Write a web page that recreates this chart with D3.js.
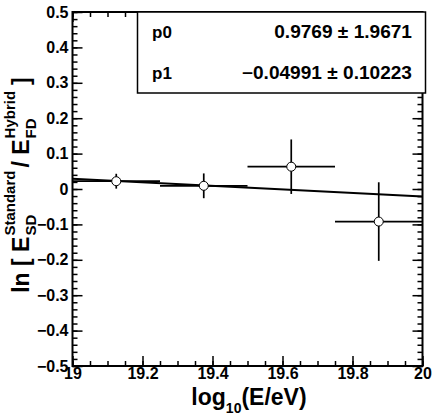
<!DOCTYPE html>
<html>
<head>
<meta charset="utf-8">
<script src="https://cdn.jsdelivr.net/npm/d3@7"></script>
<style>
  body { margin: 0; background: #fff; }
  text { font-family: "Liberation Sans", Arial, sans-serif; font-weight: bold; }
</style>
</head>
<body>
<div id="chart"></div>
<script>
// bin centres, half widths, values and errors
const binCenters = [19.125, 19.375, 19.625, 19.875];
const binHalfWidths = [0.125, 0.125, 0.125, 0.125];
const ratioValues = [0.022, 0.009, 0.063, -0.092];
const ratioErrors = [0.021, 0.035, 0.077, 0.111];

// linear fit parameters
const fitParams = [0.9769, -0.04991];
const fitLabels = ["p0", "p1"];
const fitTexts = ["0.9769 \u00b1 1.9671", "\u22120.04991 \u00b1 0.10223"];

const xTickValues = [19, 19.2, 19.4, 19.6, 19.8, 20];
const yTickValues = [0.5, 0.4, 0.3, 0.2, 0.1, 0, -0.1, -0.2, -0.3, -0.4, -0.5];

const width = 433;
const height = 416;
const margin = { top: 12, right: 10.5, bottom: 50, left: 72.5 };

const svg = d3.select("#chart")
  .append("svg")
  .attr("width", width)
  .attr("height", height);

const x = d3.scaleLinear()
  .domain([19, 20])
  .range([margin.left, width - margin.right]);

const y = d3.scaleLinear()
  .domain([-0.5, 0.5])
  .range([height - margin.bottom, margin.top]);

const fmt = d => d3.format("~g")(d);
const xMinor = d3.range(0, 21).map(i => 19 + i * 0.05);
const yMinor = d3.range(0, 51).map(i => -0.5 + i * 0.02);

// the reference is a bit wider than tall, stretch texts a little
function stretch(sel, k) {
  sel.each(function () {
    const len = this.getComputedTextLength();
    if (len > 0) d3.select(this).attr("textLength", len * k).attr("lengthAdjust", "spacingAndGlyphs");
  });
}

function styleAxis(g) {
  g.select(".domain").remove();
  g.selectAll("line").attr("stroke", "#000").attr("stroke-width", 1.5);
  g.selectAll("text")
    .style("font-size", "16px")
    .style("font-family", "'Liberation Sans', Arial, sans-serif")
    .style("font-weight", "bold")
    .attr("fill", "#000");
}

// X Axis (bottom)
svg.append("g")
  .attr("transform", `translate(0,${y(-0.5)})`)
  .call(d3.axisBottom(x).tickValues(xTickValues).tickFormat(fmt).tickSize(-10).tickPadding(2))
  .call(styleAxis);
svg.append("g")
  .attr("transform", `translate(0,${y(-0.5)})`)
  .call(d3.axisBottom(x).tickValues(xMinor).tickFormat("").tickSize(-5))
  .call(styleAxis);

// X Axis (top)
svg.append("g")
  .attr("transform", `translate(0,${y(0.5)})`)
  .call(d3.axisTop(x).tickValues(xTickValues).tickFormat("").tickSize(-10))
  .call(styleAxis);
svg.append("g")
  .attr("transform", `translate(0,${y(0.5)})`)
  .call(d3.axisTop(x).tickValues(xMinor).tickFormat("").tickSize(-5))
  .call(styleAxis);

// Y Axis (left)
svg.append("g")
  .attr("transform", `translate(${x(19)},0)`)
  .call(d3.axisLeft(y).tickValues(yTickValues).tickFormat(fmt).tickSize(-10).tickPadding(4))
  .call(styleAxis);
svg.append("g")
  .attr("transform", `translate(${x(19)},0)`)
  .call(d3.axisLeft(y).tickValues(yMinor).tickFormat("").tickSize(-5))
  .call(styleAxis);

// Y Axis (right)
svg.append("g")
  .attr("transform", `translate(${x(20)},0)`)
  .call(d3.axisRight(y).tickValues(yTickValues).tickFormat("").tickSize(-10))
  .call(styleAxis);
svg.append("g")
  .attr("transform", `translate(${x(20)},0)`)
  .call(d3.axisRight(y).tickValues(yMinor).tickFormat("").tickSize(-5))
  .call(styleAxis);

// Frame
svg.append("rect")
  .attr("x", x(19))
  .attr("y", y(0.5))
  .attr("width", x(20) - x(19))
  .attr("height", y(-0.5) - y(0.5))
  .attr("fill", "none")
  .attr("stroke", "#000")
  .attr("stroke-width", 2);

// Fit line
svg.append("line")
  .attr("x1", x(19))
  .attr("y1", y(fitParams[0] + fitParams[1] * 19))
  .attr("x2", x(20))
  .attr("y2", y(fitParams[0] + fitParams[1] * 20))
  .attr("stroke", "#000")
  .attr("stroke-width", 2);

// Error bars and markers
const pts = binCenters.map((c, i) => ({ c, w: binHalfWidths[i], v: ratioValues[i], e: ratioErrors[i] }));

const eb = svg.append("g").attr("stroke", "#000").attr("stroke-width", 1.7);
eb.selectAll(".h").data(pts).join("line")
  .attr("x1", d => x(d.c - d.w)).attr("x2", d => x(d.c + d.w))
  .attr("y1", d => y(d.v)).attr("y2", d => y(d.v));
eb.selectAll(".v").data(pts).join("line")
  .attr("x1", d => x(d.c)).attr("x2", d => x(d.c))
  .attr("y1", d => y(d.v - d.e)).attr("y2", d => y(d.v + d.e));

svg.selectAll("circle").data(pts).join("circle")
  .attr("cx", d => x(d.c))
  .attr("cy", d => y(d.v))
  .attr("r", 4.5)
  .attr("fill", "#fff")
  .attr("stroke", "#000")
  .attr("stroke-width", 1);

// Fit stats box
svg.append("rect")
  .attr("x", 137.5)
  .attr("y", 12)
  .attr("width", 288)
  .attr("height", 81)
  .attr("fill", "#fff")
  .attr("stroke", "#000")
  .attr("stroke-width", 1.5);

fitLabels.forEach((lab, i) => {
  svg.append("text")
    .attr("x", 152)
    .attr("y", 38 + i * 41)
    .style("font-size", "17px")
    .text(lab);
  svg.append("text")
    .attr("x", 412)
    .attr("y", 38 + i * 41)
    .attr("text-anchor", "end")
    .style("font-size", "17.5px")
    .text(fitTexts[i])
    .call(stretch, 1.09);
});

// X Axis Label
const xl = svg.append("text")
  .attr("x", 249)
  .attr("y", 405)
  .attr("text-anchor", "middle")
  .style("font-size", "23px");
xl.append("tspan").text("log");
xl.append("tspan").attr("dy", 8).style("font-size", "14px").text("10");
xl.append("tspan").attr("dy", -8).text("(E/eV)");

// Y Axis Label
const yl = svg.append("g").attr("transform", "translate(29,185) rotate(-90)");
let cx = 0;
function addText(str, size, dy) {
  return yl.append("text").attr("x", cx).attr("y", dy).style("font-size", size + "px").text(str);
}
const a = addText("ln [ E", 23, 0);
cx += a.node().getComputedTextLength() + 1;
const s1 = addText("Standard", 15, -14);
const s2 = addText("SD", 15, 7);
cx += Math.max(s1.node().getComputedTextLength(), s2.node().getComputedTextLength()) + 3;
const b = addText("/ E", 23, 0);
cx += b.node().getComputedTextLength() + 1;
const h1 = addText("Hybrid", 15, -14);
const h2 = addText("FD", 15, 7);
cx += Math.max(h1.node().getComputedTextLength(), h2.node().getComputedTextLength()) + 6;
const c = addText("]", 23, 0);
cx += c.node().getComputedTextLength();
yl.selectAll("text").attr("transform", `translate(${-cx / 2},0)`);
</script>
</body>
</html>
